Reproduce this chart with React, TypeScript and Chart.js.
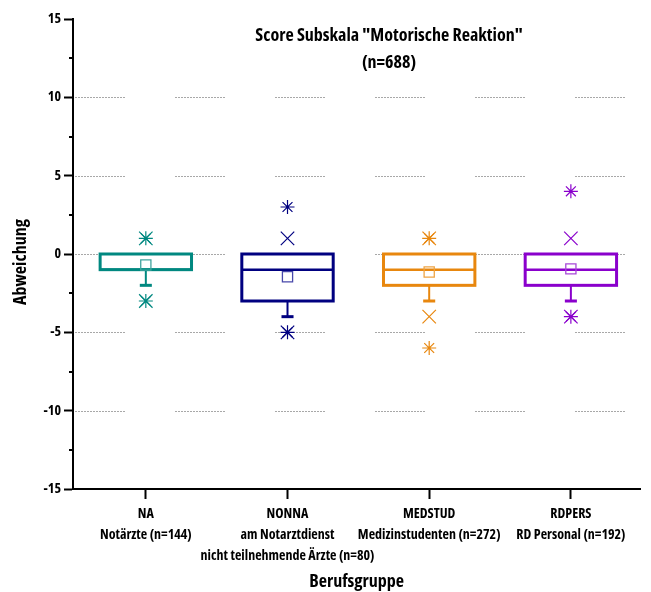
import { useEffect, useRef } from 'react';
import { Chart, registerables } from 'chart.js';

Chart.register(...registerables);

// ---------- data ----------
const categories = ['NA', 'NONNA', 'MEDSTUD', 'RDPERS'];
const tickLabels: string[][] = [
  ['NA', 'Notärzte (n=144)'],
  ['NONNA', 'am Notarztdienst', 'nicht teilnehmende Ärzte (n=80)'],
  ['MEDSTUD', 'Medizinstudenten (n=272)'],
  ['RDPERS', 'RD Personal (n=192)'],
];
const q1 = [-1, -3, -2, -2];
const q3 = [0, 0, 0, 0];
const medians = [-1, -1, -1, -1];
const means = [-0.7, -1.45, -1.15, -0.95];
const whiskerLow = [-2, -4, -3, -3];
const whiskerHigh = [0, 0, 0, 0];
const maxima = [1, 3, 1, 4];
const minima = [-3, -5, -6, -4];
const p99 = [1, 1, 1, 1];
const p1 = [-3, -5, -4, -4];
const colors = ['#008880', '#000080', '#e8870e', '#8a00cc'];
const meanColors = ['#40a49e', '#4848aa', '#eea444', '#a848d8'];
const yMajorTicks = [-15, -10, -5, 0, 5, 10, 15];
const yGridValues = [-10, -5, 0, 5, 10];
const yMinorTicks = [-12.5, -7.5, -2.5, 2.5, 7.5, 12.5];

const titleLines = ['Score Subskala "Motorische Reaktion"', '(n=688)'];
const xTitle = 'Berufsgruppe';
const yTitle = 'Abweichung';

const FAMILY = '"Open Sans", "Roboto Condensed", sans-serif';
const WEIGHT = 'bold condensed';

const BOX_W = 0.645; // in x units
const CAP_W = 0.085;

const boxPlugin = {
  id: 'boxPlot',
  beforeDatasetsDraw(chart: any) {
    const { ctx, chartArea } = chart;
    const xs = chart.scales.x;
    const ys = chart.scales.y;
    ctx.save();
    // dashed grid lines
    ctx.strokeStyle = '#a8a8a8';
    ctx.lineWidth = 1;
    ctx.setLineDash([2, 1]);
    yGridValues.forEach((v) => {
      const y = Math.round(ys.getPixelForValue(v)) + 0.5;
      for (let x = chartArea.left + 2; x < chartArea.right; x += 100) {
        ctx.beginPath();
        ctx.moveTo(x, y);
        ctx.lineTo(Math.min(x + 50, chartArea.right), y);
        ctx.stroke();
      }
    });
    ctx.setLineDash([]);
    categories.forEach((_, i) => {
      const cx = xs.getPixelForValue(i + 1);
      const hw = xs.getPixelForValue(i + 1 + BOX_W / 2) - cx;
      const cw = xs.getPixelForValue(i + 1 + CAP_W / 2) - cx;
      const top = ys.getPixelForValue(q3[i]);
      const bot = ys.getPixelForValue(q1[i]);
      const ym = ys.getPixelForValue(medians[i]);
      const ywl = ys.getPixelForValue(whiskerLow[i]);
      const ywh = ys.getPixelForValue(whiskerHigh[i]);
      ctx.strokeStyle = colors[i];
      // whiskers
      ctx.lineWidth = 2;
      if (whiskerLow[i] < q1[i]) {
        ctx.beginPath();
        ctx.moveTo(cx, bot);
        ctx.lineTo(cx, ywl);
        ctx.stroke();
        ctx.lineWidth = 3;
        ctx.beginPath();
        ctx.moveTo(cx - cw, ywl);
        ctx.lineTo(cx + cw, ywl);
        ctx.stroke();
      }
      ctx.lineWidth = 2;
      if (whiskerHigh[i] > q3[i]) {
        ctx.beginPath();
        ctx.moveTo(cx, top);
        ctx.lineTo(cx, ywh);
        ctx.stroke();
        ctx.lineWidth = 3;
        ctx.beginPath();
        ctx.moveTo(cx - cw, ywh);
        ctx.lineTo(cx + cw, ywh);
        ctx.stroke();
      }
      // box
      ctx.lineWidth = 3;
      ctx.strokeRect(cx - hw, top, 2 * hw, bot - top);
      // median
      ctx.lineWidth = 2.5;
      ctx.beginPath();
      ctx.moveTo(cx - hw, ym);
      ctx.lineTo(cx + hw, ym);
      ctx.stroke();
    });
    ctx.restore();
  },
  afterDraw(chart: any) {
    const { ctx, chartArea } = chart;
    const ys = chart.scales.y;
    ctx.save();
    // minor ticks
    ctx.strokeStyle = '#000';
    ctx.lineWidth = 2;
    yMinorTicks.forEach((v) => {
      const y = Math.round(ys.getPixelForValue(v));
      ctx.beginPath();
      ctx.moveTo(chartArea.left - 4, y);
      ctx.lineTo(chartArea.left, y);
      ctx.stroke();
    });
    // titles
    ctx.fillStyle = '#000';
    ctx.textAlign = 'center';
    ctx.textBaseline = 'middle';
    ctx.font = `${WEIGHT} 18px ${FAMILY}`;
    ctx.fillText(titleLines[0], 389, 36);
    ctx.fillText(titleLines[1], 389, 63);
    ctx.fillText(xTitle, (chartArea.left + chartArea.right) / 2, 582);
    ctx.translate(21, 262);
    ctx.rotate(-Math.PI / 2);
    ctx.fillText(yTitle, 0, 0);
    ctx.restore();
  },
};

export default function App() {
  const ref = useRef<HTMLCanvasElement>(null);
  useEffect(() => {
    document.body.style.margin = '0';
    const canvas = ref.current!;
    const pt = (arr: number[]) => arr.map((v, i) => ({ x: i + 1, y: v }));
    const byGroup = (c: string[]) => (ctx: any) => c[Math.round(ctx.raw?.x ?? 1) - 1];
    const markerSet = (label: string, arr: number[], style: string, radius: number, pal: string[], bw: number) => ({
      label,
      data: pt(arr),
      pointStyle: style,
      pointRadius: radius,
      pointBorderWidth: bw,
      pointBorderColor: byGroup(pal),
      pointBackgroundColor: 'rgba(0,0,0,0)',
    });
    const chart = new Chart(canvas, {
      type: 'scatter',
      data: {
        datasets: [
          markerSet('Mittelwert', means, 'rect', 7.2, meanColors, 1.3),
          markerSet('Max', maxima, 'star', 7, colors, 1.2),
          markerSet('Min', minima, 'star', 7, colors, 1.2),
          markerSet('99%', p99, 'crossRot', 9.5, colors, 1.2),
          markerSet('1%', p1, 'crossRot', 9.5, colors, 1.2),
        ],
      },
      options: {
        animation: false,
        responsive: false,
        devicePixelRatio: 1,
        layout: { padding: { top: 19, right: 0, left: 0, bottom: 0 } },
        plugins: {
          legend: { display: false },
          tooltip: { enabled: false },
          title: { display: false },
        },
        scales: {
          x: {
            type: 'linear',
            min: 0.486,
            max: 4.49,
            afterBuildTicks: (scale: any) => {
              scale.ticks = categories.map((_, i) => ({ value: i + 1 }));
            },
            afterFit: (scale: any) => {
              scale.height = 103;
            },
            ticks: {
              autoSkip: false,
              maxRotation: 0,
              color: '#000',
              padding: 5,
              font: { family: FAMILY, size: 14, weight: WEIGHT, lineHeight: 1.5 },
              callback: (v: any) => tickLabels[Math.round(Number(v)) - 1] ?? '',
            },
            grid: {
              display: true,
              drawOnChartArea: false,
              tickLength: 10,
              tickWidth: 2,
              tickColor: '#000',
            },
            border: { display: true, color: '#000', width: 2 },
          },
          y: {
            type: 'linear',
            min: -15,
            max: 15,
            afterBuildTicks: (scale: any) => {
              scale.ticks = yMajorTicks.map((v) => ({ value: v }));
            },
            afterFit: (scale: any) => {
              scale.width = 73;
            },
            ticks: {
              autoSkip: false,
              color: '#000',
              padding: 3,
              font: { family: FAMILY, size: 14, weight: WEIGHT },
              callback: (v: any) => String(v),
            },
            grid: {
              display: true,
              drawOnChartArea: false,
              tickLength: 9,
              tickWidth: 2,
              tickColor: '#000',
            },
            border: { display: true, color: '#000', width: 2 },
          },
        },
      } as any,
      plugins: [boxPlugin],
    });
    return () => chart.destroy();
  }, []);
  return (
    <div style={{ width: 651, height: 592 }}>
      <canvas ref={ref} width={651} height={592} style={{ display: 'block' }} />
    </div>
  );
}
